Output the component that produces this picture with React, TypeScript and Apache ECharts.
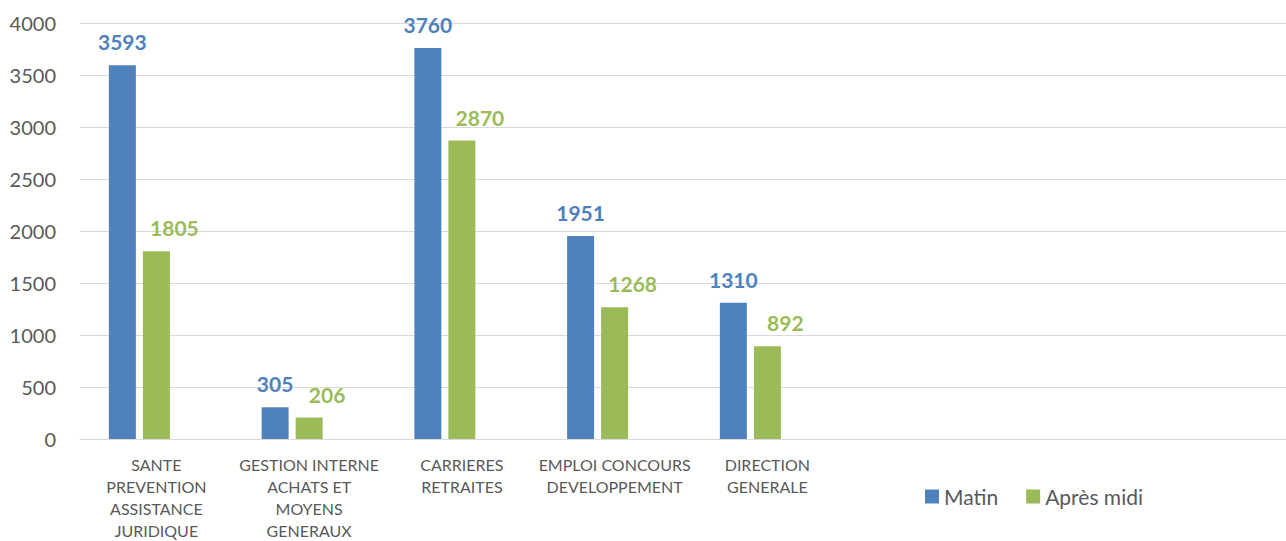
import React, { useEffect, useRef } from "react";
import * as echarts from "echarts";

const categories = [
  "SANTE\nPREVENTION\nASSISTANCE\nJURIDIQUE",
  "GESTION INTERNE\nACHATS ET\nMOYENS\nGENERAUX",
  "CARRIERES\nRETRAITES",
  "EMPLOI CONCOURS\nDEVELOPPEMENT",
  "DIRECTION\nGENERALE",
  "",
  "",
  "",
];
const matin = [3593, 305, 3760, 1951, 1310, null, null, null];
const apresMidi = [1805, 206, 2870, 1268, 892, null, null, null];
const emptySeries = [null, null, null, null, null, null, null, null];

const FONT = "Lato, 'Open Sans', sans-serif";

export default function App() {
  const ref = useRef<HTMLDivElement>(null);
  useEffect(() => {
    if (!ref.current) return;
    const chart = echarts.init(ref.current, null, { renderer: "svg" });
    chart.setOption({
      animation: false,
      textStyle: { fontFamily: FONT },
      grid: { left: 80, right: 0, top: 23, bottom: 100 },
      legend: {
        left: 925,
        top: 486,
        padding: 0,
        itemWidth: 14,
        itemHeight: 14,
        itemGap: 28,
        icon: "rect",
        data: ["Matin", "Après midi"],
        textStyle: { fontSize: 21, color: "#595959", fontFamily: FONT },
      },
      xAxis: {
        type: "category",
        data: categories,
        axisLine: { show: true, lineStyle: { color: "#D9D9D9", width: 1 } },
        axisTick: { show: false },
        axisLabel: {
          interval: 0,
          fontSize: 16,
          lineHeight: 22,
          color: "#595959",
          margin: 14,
          fontFamily: FONT,
        },
      },
      yAxis: {
        type: "value",
        min: 0,
        max: 4000,
        interval: 500,
        axisLine: { show: false },
        axisTick: { show: false },
        splitLine: { lineStyle: { color: "#D9D9D9", width: 1 } },
        axisLabel: {
          fontSize: 20,
          color: "#595959",
          margin: 24,
          fontFamily: FONT,
          formatter: (v: number) => String(v),
        },
      },
      series: [
        {
          name: "Matin",
          type: "bar",
          data: matin,
          barWidth: 27,
          barGap: "26%",
          itemStyle: { color: "#4F81BD" },
          label: {
            show: true,
            position: "top",
            distance: 13,
            fontSize: 21,
            fontWeight: "bold",
            color: "#4F81BD",
            fontFamily: FONT,
          },
        },
        {
          name: "Après midi",
          type: "bar",
          data: apresMidi,
          barWidth: 27,
          barGap: "26%",
          itemStyle: { color: "#9BBB59" },
          label: {
            show: true,
            position: "top",
            distance: 13,
            offset: [18, 0],
            fontSize: 21,
            fontWeight: "bold",
            color: "#9BBB59",
            fontFamily: FONT,
          },
        },
        {
          name: "vide",
          type: "bar",
          data: emptySeries,
          barWidth: 27,
          barGap: "26%",
          itemStyle: { color: "transparent" },
        },
      ],
    });
    return () => chart.dispose();
  }, []);
  return (
    <div
      style={{
        position: "fixed",
        left: 0,
        top: 0,
        width: 1286,
        height: 541,
        overflow: "hidden",
        background: "#fff",
      }}
    >
      <div ref={ref} style={{ width: 1302, height: 541 }} />
    </div>
  );
}
